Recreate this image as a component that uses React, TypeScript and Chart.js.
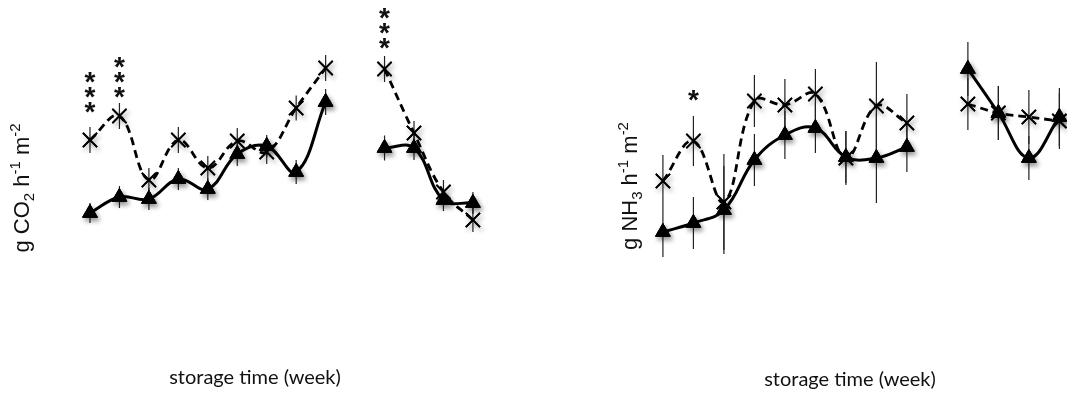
import { useEffect, useRef } from 'react';
import { Chart, registerables } from 'chart.js';

Chart.register(...registerables);

// storage weeks (categories); week 10 has no measurement
const weeks = [1, 2, 3, 4, 5, 6, 7, 8, 9, 10, 11, 12, 13, 14];

// CO2 emission (arbitrary units)
const co2Cross = [25.5, 27.9, 21.5, 25.5, 22.7, 25.4, 24.3, 28.7, 32.7, null, 32.6, 26.2, 20.3, 17.5];
const co2CrossErr = [1.3, 1.3, 1.2, 1.3, 1.2, 1.3, 1.2, 1.25, 1.3, null, 1.3, 1.2, 1.2, 1.2];
const co2Tri = [18.2, 19.8, 19.6, 21.6, 20.6, 24.1, 24.9, 22.3, 29.3, null, 24.7, 24.7, 19.5, 19.2];
const co2TriErr = [1.0, 1.1, 1.1, 1.1, 1.1, 1.2, 1.1, 1.2, 1.3, null, 1.25, 1.2, 1.1, 1.1];

// NH3 emission (arbitrary units)
const nh3Cross = [21.4, 25.4, 19.3, 29.4, 29.0, 30.1, 23.7, 28.9, 27.2, null, 29.1, 28.2, 27.8, 27.4];
const nh3CrossErr = [2.6, 2.5, 4.8, 2.6, 2.6, 2.5, 2.7, 4.4, 2.9, null, 2.6, 2.7, 2.7, 2.8];
const nh3Tri = [16.3, 17.2, 18.5, 23.5, 26.0, 26.7, 23.8, 23.7, 24.8, null, 32.6, 28.2, 23.7, 27.8];
const nh3TriErr = [2.5, 2.6, 4.4, 2.6, 2.4, 2.5, 2.6, 4.5, 2.5, null, 2.7, 2.7, 2.2, 2.9];

// significance marks: week, number of stars, value of lowest star
const co2SigWeeks = [1, 2, 11];
const co2SigStars = [3, 3, 3];
const co2SigValues = [28.8, 30.3, 35.2];
const nh3SigWeeks = [2];
const nh3SigStars = [1];
const nh3SigValues = [30.0];

const xTitle = 'storage time (week)';
const co2YTitle: [string, number][] = [['g CO', 0], ['2', -1], [' h', 0], ['-1', 1], [' m', 0], ['-2', 1]];
const nh3YTitle: [string, number][] = [['g NH', 0], ['3', -1], [' h', 0], ['-1', 1], [' m', 0], ['-2', 1]];

type PanelCfg = {
  cross: (number | null)[];
  crossErr: (number | null)[];
  tri: (number | null)[];
  triErr: (number | null)[];
  sigWeeks: number[];
  sigStars: number[];
  sigValues: number[];
  yTitle: [string, number][];
  yTitleX: number;
  yTitleY: number;
  xTitleX: number;
  xTitleY: number;
  xMin: number;
  xMax: number;
};

function makeOverlay(cfg: PanelCfg) {
  return {
    id: 'overlay',
    beforeDatasetsDraw(chart: any) {
      const ctx = chart.ctx;
      const ys = chart.scales.y;
      const xs = chart.scales.x;
      const sets: [(number | null)[], (number | null)[]][] = [
        [cfg.cross, cfg.crossErr],
        [cfg.tri, cfg.triErr],
      ];
      ctx.save();
      ctx.strokeStyle = '#222';
      ctx.lineWidth = 1.2;
      sets.forEach(([vals, errs]) => {
        vals.forEach((v, i) => {
          const e = errs[i];
          if (v == null || e == null) return;
          const x = xs.getPixelForValue(weeks[i]);
          ctx.beginPath();
          ctx.moveTo(x, ys.getPixelForValue(v - e));
          ctx.lineTo(x, ys.getPixelForValue(v + e));
          ctx.stroke();
        });
      });
      ctx.restore();
    },
    afterDatasetsDraw(chart: any) {
      // redraw the library's point elements with a soft shadow (marker glow)
      const ctx = chart.ctx;
      ctx.save();
      ctx.shadowColor = 'rgba(0,0,0,0.45)';
      ctx.shadowBlur = 5;
      ctx.shadowOffsetX = 2;
      ctx.shadowOffsetY = 3;
      chart.data.datasets.forEach((_: any, di: number) => {
        const meta = chart.getDatasetMeta(di);
        meta.data.forEach((pt: any) => {
          if (!pt.skip) pt.draw(ctx, chart.chartArea);
        });
      });
      ctx.restore();
    },
    afterDraw(chart: any) {
      const ctx = chart.ctx;
      const ys = chart.scales.y;
      const xs = chart.scales.x;
      ctx.save();
      // stars
      ctx.fillStyle = '#111';
      ctx.font = 'bold 28px "Liberation Sans"';
      ctx.textAlign = 'center';
      ctx.textBaseline = 'alphabetic';
      const m = ctx.measureText('*');
      const mid = (m.actualBoundingBoxAscent - m.actualBoundingBoxDescent) / 2;
      cfg.sigWeeks.forEach((w, k) => {
        const x = xs.getPixelForValue(w);
        const y0 = ys.getPixelForValue(cfg.sigValues[k]);
        for (let s = 0; s < cfg.sigStars[k]; s++) {
          ctx.fillText('*', x, y0 - s * 15 + mid);
        }
      });
      // x title
      ctx.font = '20px Lato';
      ctx.fillStyle = '#111';
      ctx.fillText(xTitle, cfg.xTitleX, cfg.xTitleY);
      // y title (rotated, with sub/superscripts)
      const mainFont = '22px "Liberation Sans"';
      const scriptFont = '15px "Liberation Sans"';
      let total = 0;
      cfg.yTitle.forEach(([t, s]) => {
        ctx.font = s === 0 ? mainFont : scriptFont;
        total += ctx.measureText(t).width;
      });
      ctx.translate(cfg.yTitleX, cfg.yTitleY);
      ctx.rotate(-Math.PI / 2);
      ctx.textAlign = 'left';
      let px = -total / 2;
      cfg.yTitle.forEach(([t, s]) => {
        ctx.font = s === 0 ? mainFont : scriptFont;
        const dy = s === 0 ? 0 : s < 0 ? 5 : -9;
        ctx.fillText(t, px, dy);
        px += ctx.measureText(t).width;
      });
      ctx.restore();
    },
  };
}

function Panel({ cfg, left, width }: { cfg: PanelCfg; left: number; width: number }) {
  const ref = useRef<HTMLCanvasElement | null>(null);
  useEffect(() => {
    if (!ref.current) return;
    const toPts = (arr: (number | null)[]) => arr.map((v, i) => ({ x: weeks[i], y: v }));
    const chart = new Chart(ref.current, {
      type: 'line',
      data: {
        datasets: [
          {
            label: 'cross',
            data: toPts(cfg.cross) as any,
            borderColor: '#000',
            borderWidth: 2.8,
            borderDash: [8, 5],
            pointStyle: 'crossRot',
            pointRadius: 10,
            pointBorderWidth: 1.8,
            pointBorderColor: '#000',
            pointBackgroundColor: '#000',
            tension: 0.4,
            spanGaps: false,
            fill: false,
          },
          {
            label: 'triangle',
            data: toPts(cfg.tri) as any,
            borderColor: '#000',
            borderWidth: 3,
            pointStyle: 'triangle',
            pointRadius: 8.5,
            pointBorderWidth: 1,
            pointBorderColor: '#000',
            pointBackgroundColor: '#000',
            tension: 0.4,
            spanGaps: false,
            fill: false,
          },
        ],
      },
      options: {
        animation: false,
        responsive: false,
        layout: { padding: 0, autoPadding: false },
        scales: {
          x: { type: 'linear', display: false, min: cfg.xMin, max: cfg.xMax },
          y: { type: 'linear', display: false, min: 0, max: 39.5 },
        },
        plugins: { legend: { display: false }, tooltip: { enabled: false } },
      },
      plugins: [makeOverlay(cfg)],
    });
    return () => chart.destroy();
  }, []);
  return (
    <canvas
      ref={ref}
      width={width}
      height={395}
      style={{ position: 'absolute', left, top: 0, width, height: 395 }}
    />
  );
}

const co2Cfg: PanelCfg = {
  cross: co2Cross,
  crossErr: co2CrossErr,
  tri: co2Tri,
  triErr: co2TriErr,
  sigWeeks: co2SigWeeks,
  sigStars: co2SigStars,
  sigValues: co2SigValues,
  yTitle: co2YTitle,
  yTitleX: 29,
  yTitleY: 188,
  xTitleX: 255,
  xTitleY: 384,
  xMin: -2.055,
  xMax: 16.04,
};

const nh3Cfg: PanelCfg = {
  cross: nh3Cross,
  crossErr: nh3CrossErr,
  tri: nh3Tri,
  triErr: nh3TriErr,
  sigWeeks: nh3SigWeeks,
  sigStars: nh3SigStars,
  sigValues: nh3SigValues,
  yTitle: nh3YTitle,
  yTitleX: 637 - 533,
  yTitleY: 186,
  xTitleX: 850 - 533,
  xTitleY: 386,
  xMin: -3.26,
  xMax: 14.25,
};

export default function App() {
  return (
    <div style={{ position: 'absolute', left: 0, top: 0, width: 1067, height: 395, background: '#fff', overflow: 'hidden' }}>
      <Panel cfg={co2Cfg} left={0} width={533} />
      <Panel cfg={nh3Cfg} left={533} width={534} />
    </div>
  );
}
